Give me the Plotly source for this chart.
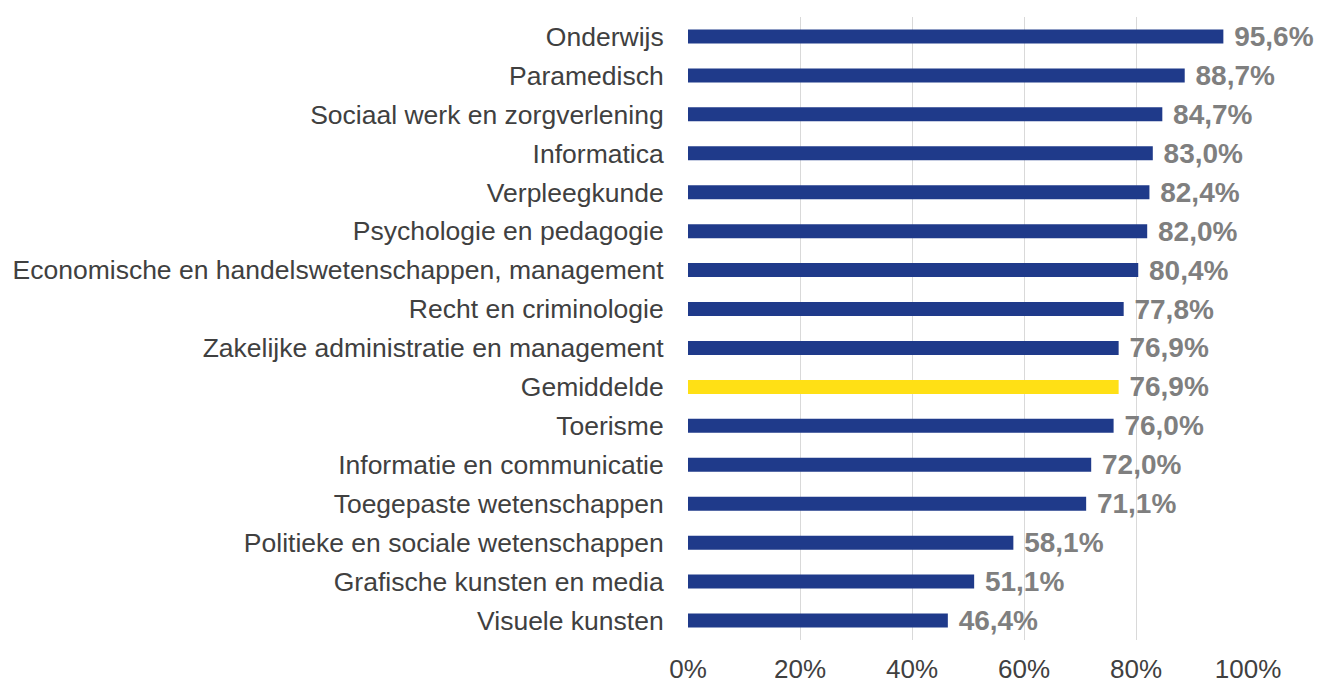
import plotly.graph_objects as go

categories = [
    "Onderwijs",
    "Paramedisch",
    "Sociaal werk en zorgverlening",
    "Informatica",
    "Verpleegkunde",
    "Psychologie en pedagogie",
    "Economische en handelswetenschappen, management",
    "Recht en criminologie",
    "Zakelijke administratie en management",
    "Gemiddelde",
    "Toerisme",
    "Informatie en communicatie",
    "Toegepaste wetenschappen",
    "Politieke en sociale wetenschappen",
    "Grafische kunsten en media",
    "Visuele kunsten",
]
values = [95.6, 88.7, 84.7, 83.0, 82.4, 82.0, 80.4, 77.8, 76.9, 76.9, 76.0, 72.0, 71.1, 58.1, 51.1, 46.4]
x_ticks = [0, 20, 40, 60, 80, 100]

NAVY = "#1F3A8A"
YELLOW = "#FFE015"
colors = [YELLOW if c == "Gemiddelde" else NAVY for c in categories]
labels = ["\u00a0" + f"{v:.1f}%".replace(".", ",") for v in values]

FONT = "Liberation Sans, Arial, sans-serif"

fig = go.Figure(go.Bar(
    x=values, y=categories, orientation="h",
    marker=dict(color=colors, line=dict(width=0)),
    width=0.36,
    text=labels, textposition="outside", cliponaxis=False,
    constraintext="none",
    textfont=dict(family=FONT, size=28, color="#7F7F7F", weight="bold"),
    hoverinfo="skip",
))

fig.update_layout(
    width=1320, height=684,
    margin=dict(l=688, r=72, t=17, b=44),
    paper_bgcolor="white", plot_bgcolor="white",
    font=dict(family=FONT, color="#404040"),
    showlegend=False,
)
fig.update_xaxes(
    range=[0, 100], tickvals=x_ticks, ticktext=[f"{t}%" for t in x_ticks],
    showgrid=True, gridcolor="#D9D9D9", gridwidth=1,
    zeroline=False, showline=False, automargin=False,
    tickfont=dict(size=26, color="#404040"),
    ticks="outside", ticklen=6, tickcolor="rgba(0,0,0,0)",
)
fig.update_yaxes(
    autorange="reversed", showgrid=False, zeroline=False, showline=False,
    automargin=False,
    tickfont=dict(size=26.5, color="#404040"),
    ticks="outside", ticklen=18, tickcolor="rgba(0,0,0,0)",
)

fig.write_html(
    "out.html",
    config={"displayModeBar": False},
    post_script="document.body.style.margin='0';document.body.style.overflow='hidden';",
)
